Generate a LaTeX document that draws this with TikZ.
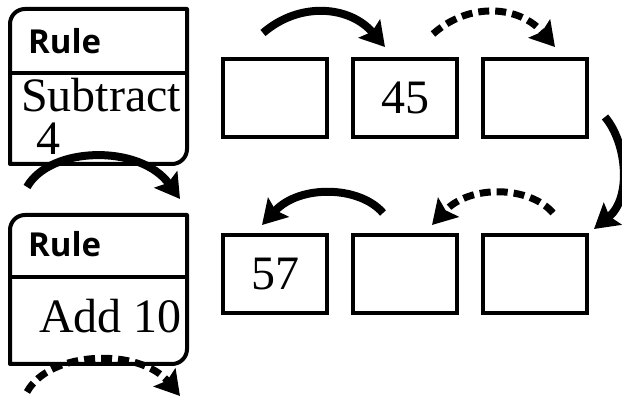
\documentclass[tikz,border=0pt]{standalone}
\usepackage{fontspec}
\setmainfont{Liberation Serif}
\newfontfamily\rulefont{Open Sans}
\usetikzlibrary{arrows.meta}
\tikzset{
  x=1pt, y=1pt,
  rulebox/.style={line width=4pt, line join=round},
  numbox/.style={draw, line width=4pt, minimum width=104pt, minimum height=78pt, inner sep=0pt, font=\fontsize{48}{52}\selectfont},
  rulelabel/.style={anchor=base west, inner sep=0pt, font=\rulefont\bfseries\fontsize{33}{35}\selectfont},
  ruletext/.style={anchor=base west, inner sep=0pt, text depth=0pt, font=\fontsize{48}{52}\selectfont},
  flow/.style={line width=8pt, -{Stealth[length=24pt,width=28pt,inset=4pt]}},
  flowdash/.style={flow, line width=7pt, dash pattern=on 11pt off 6pt}
}
\begin{document}
\begin{tikzpicture}
\useasboundingbox (0,0) rectangle (622,398);
% rule box 1
\draw[rulebox] (10,234) -- (10,374) arc[start angle=180,end angle=90,radius=15] -- (187,389) -- (187,249) arc[start angle=0,end angle=-90,radius=15] -- cycle;
\draw[rulebox] (10,325) -- (187,325);
\node[rulelabel] (r1) at (28,344) {Rule};
\node[inner sep=0pt, anchor=south west, align=left, font=\fontsize{48}{43}\selectfont] (t1) at (21,243) {Subtract\\\hspace*{15pt}4};
% rule box 2
\draw[rulebox] (10,34) -- (10,168) arc[start angle=180,end angle=90,radius=15] -- (187,183) -- (187,49) arc[start angle=0,end angle=-90,radius=15] -- cycle;
\draw[rulebox] (10,121) -- (187,121);
\node[rulelabel] (r2) at (28,141) {Rule};
\node[ruletext] (t2) at (39,65) {Add 10};
% number boxes
\node[numbox] (a1) at (275,300) {};
\node[numbox] (a2) at (405,300) {45};
\node[numbox] (a3) at (534.5,300) {};
\node[numbox] (b1) at (275,123.5) {57};
\node[numbox] (b2) at (405,123.5) {};
\node[numbox] (b3) at (534.5,123.5) {};
% arrow endpoints
\coordinate (p1s) at (263,365); \coordinate (p1e) at (385,351);
\coordinate (p2s) at (433,364); \coordinate (p2e) at (555,351);
\coordinate (p3s) at (605,281); \coordinate (p3e) at (594,169);
\coordinate (p4s) at (553,185); \coordinate (p4e) at (432,173);
\coordinate (p5s) at (383,185); \coordinate (p5e) at (262,173);
\coordinate (q1s) at (27,211); \coordinate (q1e) at (180,199);
\coordinate (q2s) at (27,6); \coordinate (q2e) at (180,2);
\draw[flow] (p1s) .. controls (300,397) and (350,392) .. (p1e);
\draw[flowdash] (p2s) .. controls (470,397) and (520,392) .. (p2e);
\draw[flow] (p3s) .. controls (627,255) and (632,200) .. (p3e);
\draw[flowdash] (p4s) .. controls (530,212) and (470,214) .. (p4e);
\draw[flow] (p5s) .. controls (360,212) and (300,214) .. (p5e);
\draw[flow] (q1s) .. controls (50,252) and (140,254) .. (q1e);
\draw[flowdash] (q2s) .. controls (50,48) and (140,50) .. (q2e);
\end{tikzpicture}
\end{document}
